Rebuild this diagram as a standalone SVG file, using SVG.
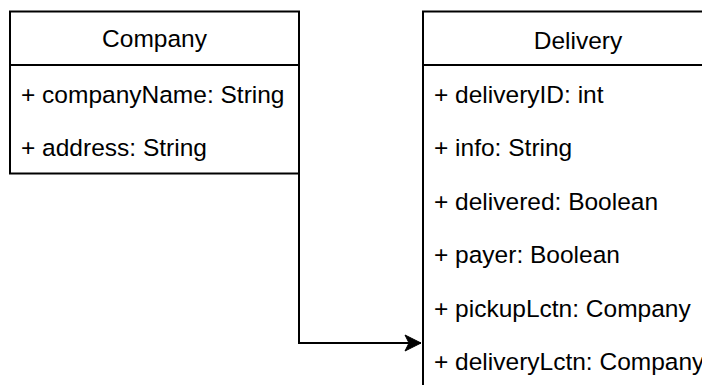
<svg xmlns="http://www.w3.org/2000/svg" width="702" height="385" viewBox="0 0 702 385">
<defs>
<style>
.box{fill:#fff;stroke:#000;stroke-width:2}
.t{font-family:"Liberation Sans",Arial,Helvetica,sans-serif;font-size:24.5px;fill:#000}
.h{text-anchor:middle}
.edge{fill:none;stroke:#000;stroke-width:2}
</style>
<marker id="arr" markerUnits="userSpaceOnUse" markerWidth="20" markerHeight="20" viewBox="0 0 20 20" refX="18" refY="10" orient="auto">
<path d="M2,2 L18,10 L2,18 L6,10 Z" fill="#000" stroke="#000" stroke-width="1"/>
</marker>
</defs>
<rect width="702" height="385" fill="#fff"/>
<g id="company">
<rect class="box" x="10" y="11.5" width="289" height="162"/>
<line class="box" x1="10" y1="65" x2="299" y2="65"/>
<text class="t h" x="154.5" y="47">Company</text>
<text class="t" x="21" y="103">+ companyName: String</text>
<text class="t" x="21" y="156">+ address: String</text>
</g>
<g id="delivery">
<rect class="box" x="423" y="11.5" width="310" height="400"/>
<line class="box" x1="423" y1="65" x2="733" y2="65"/>
<text class="t h" x="578" y="49">Delivery</text>
<text class="t" x="434" y="102.5">+ deliveryID: int</text>
<text class="t" x="434" y="156">+ info: String</text>
<text class="t" x="434" y="209.5">+ delivered: Boolean</text>
<text class="t" x="434" y="263">+ payer: Boolean</text>
<text class="t" x="434" y="316.5">+ pickupLctn: Company</text>
<text class="t" x="434" y="370">+ deliveryLctn: Company</text>
</g>
<g id="connectors">
<path class="edge" d="M299,173.5 L299,343 L421,343" marker-end="url(#arr)"/>
</g>
</svg>
